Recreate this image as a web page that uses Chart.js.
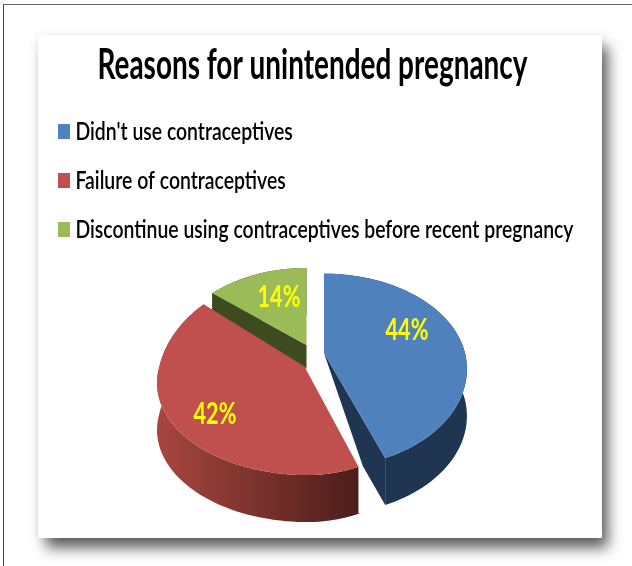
<!DOCTYPE html>
<html>
<head>
<meta charset="utf-8">
<title>Reasons for unintended pregnancy</title>
<script src="https://cdn.jsdelivr.net/npm/chart.js@4"></script>
<style>
  html, body { margin: 0; padding: 0; background: #fff; overflow: hidden; width: 632px; height: 566px; }
  #frame { position: absolute; left: 3px; top: 4px; width: 800px; height: 800px; border-left: 1.5px solid #444; border-top: 1.5px solid #666; }
  #card { position: absolute; left: 38px; top: 35px; width: 564px; height: 503px; background: #fff;
          box-shadow: 7px 11px 13px -1px rgba(0,0,0,.62), 0 0 10px rgba(0,0,0,.08); }
  canvas { display: block; }
</style>
</head>
<body>
<div id="frame"></div>
<div id="card"><canvas id="pie" width="564" height="503"></canvas></div>
<script>
const categories = ["Didn't use contraceptives", "Failure of contraceptives", "Discontinue using contraceptives before recent pregnancy"];
const percentages = [44, 42, 14];
const topColors = ["#4f81bd", "#c0504d", "#9bbb59"];
const sideColors = ["#1f3552", "#a2433f", "#3e4b20"];

const FONT = "Lato, 'Liberation Sans', sans-serif";
const TITLE_SIZE = 42, LEGEND_SIZE = 25;
const LEGEND_WEIGHT = "600";
const TITLE_WIDTH = 430, LEGEND_WIDTH = 498;  // the text is squeezed to these widths
const LEGEND_PAD = 24, SWATCH_X = 20;

// fake 3D: disc seen in perspective
const persp = 0.163, discB = 89.6, depth = 47;
// per slice: where the apex ends up after the explode, radii left/right of it, stretch of far/near half
const apexX = [286, 269, 268.5];
const apexY = [318, 333, 310];
const radiusL = [141, 148, 135];
const radiusR = [141, 122, 135];
const farY = [1.03, 1.23, 1];
const nearY = [1.07, 1, 1];
const labelX = [369, 177, 241];
const labelY = [295, 379, 262];

function project(i, angle) {
    const u = Math.cos(angle), v = Math.sin(angle);
    const w = 1 - persp * v;
    return {
        x: apexX[i] + (u < 0 ? radiusL[i] : radiusR[i]) * u / w,
        y: apexY[i] + discB * (v < 0 ? farY[i] : nearY[i]) * v / w
    };
}

function arcPoints(i, start, end) {
    const pts = [];
    const n = 80;
    for (let k = 0; k <= n; k++) pts.push(project(i, start + (end - start) * k / n));
    return pts;
}

function fillPoly(ctx, pts, fill) {
    ctx.beginPath();
    pts.forEach((p, k) => k ? ctx.lineTo(p.x, p.y) : ctx.moveTo(p.x, p.y));
    ctx.closePath();
    ctx.fillStyle = fill;
    ctx.fill();
}

const shift = p => ({ x: p.x, y: p.y + depth });

// draws a layout box with its text squeezed horizontally around ox
function squeezeBox(box, ctx, ox, s, dx, widenClip) {
    const draw = box.draw;
    box.draw = function (area) {
        const right = box.right;
        if (widenClip) box.right = box.left + 2000; // legend clips to its own box
        ctx.save();
        ctx.translate(ox + dx, 0);
        ctx.scale(s, 1);
        ctx.translate(-ox, 0);
        draw.call(box, area);
        ctx.restore();
        box.right = right;
    };
}

const pie3d = {
    id: "pie3d",
    afterLayout(chart) {
        if (chart.$squeezed) return;
        chart.$squeezed = true;
        const ctx = chart.ctx;
        const widthOf = (font, text) => {
            ctx.save();
            ctx.font = font;
            const w = ctx.measureText(text).width;
            ctx.restore();
            return w;
        };
        // the title plugin already fits its text into the box width
        const titleNatural = Math.min(chart.width, widthOf("bold " + TITLE_SIZE + "px " + FONT, chart.options.plugins.title.text));
        const legendNatural = widthOf(LEGEND_WEIGHT + " " + LEGEND_SIZE + "px " + FONT, categories[2]);
        squeezeBox(chart.titleBlock, ctx, chart.width / 2, TITLE_WIDTH / titleNatural, -7.5, false);
        squeezeBox(chart.legend, ctx, chart.legend.left + LEGEND_PAD, LEGEND_WIDTH / legendNatural, SWATCH_X - LEGEND_PAD, true);
    },
    beforeDatasetsDraw(chart) {
        const ctx = chart.ctx;
        const arcs = chart.getDatasetMeta(0).data;
        const apex = i => ({ x: apexX[i], y: apexY[i] });

        // green, then blue, red goes on top of both
        [2, 0, 1].forEach(i => {
            const a = arcs[i];
            const rim = arcPoints(i, a.startAngle, a.endAngle);
            let side = sideColors[i];
            if (i === 1) {
                side = ctx.createLinearGradient(apexX[1] - 150, 0, rim[0].x, 0);
                side.addColorStop(0, "#a8463f");
                side.addColorStop(1, "#4c1d1a");
            }
            fillPoly(ctx, rim.concat(rim.map(shift).reverse()), side);

            if (i === 2) {
                // inner wall, the red slice hides most of it
                const p = rim[0];
                fillPoly(ctx, [p, apex(i), shift(apex(i)), shift(p)], side);
            }
            if (i === 0) {
                const tip = rim[rim.length - 1];
                const redTip = project(1, arcs[1].startAngle);
                fillPoly(ctx, [apex(i), tip, shift(tip), { x: redTip.x + 3, y: redTip.y }], side);
            }
            fillPoly(ctx, [apex(i)].concat(rim), topColors[i]);

            if (i === 1) {
                const t = rim[0];
                ctx.beginPath();
                ctx.moveTo(apexX[1], apexY[1]);
                ctx.lineTo(t.x, t.y);
                ctx.lineTo(t.x, t.y + depth);
                ctx.lineWidth = 3;
                ctx.strokeStyle = "#fff";
                ctx.stroke();
            }
        });
        return false;
    },
    afterDraw(chart) {
        const ctx = chart.ctx;
        // percent labels
        ctx.font = "bold 31px " + FONT;
        ctx.fillStyle = "#ffff00";
        ctx.textAlign = "center";
        ctx.textBaseline = "middle";
        percentages.forEach((p, i) => {
            ctx.save();
            ctx.translate(labelX[i], labelY[i]);
            ctx.scale(0.7, 1);
            ctx.fillText(p + "%", 0, 0);
            ctx.restore();
        });
        // legend swatches, the built in gap to the text is too wide
        chart.legend.legendHitBoxes.forEach((box, i) => {
            ctx.fillStyle = topColors[i];
            ctx.fillRect(SWATCH_X, box.top + box.height / 2 - 7.5, 12, 15);
        });
    }
};

new Chart(document.getElementById("pie"), {
    type: "pie",
    data: {
        labels: categories,
        datasets: [{ data: percentages, backgroundColor: topColors, borderWidth: 0 }]
    },
    options: {
        responsive: false,
        animation: false,
        plugins: {
            tooltip: { enabled: false },
            title: {
                display: true,
                text: "Reasons for unintended pregnancy",
                color: "#000",
                font: { family: FONT, size: TITLE_SIZE, weight: "bold" },
                padding: { top: 5, bottom: 4.6 }
            },
            legend: {
                position: "left",
                align: "start",
                fullSize: false,
                maxWidth: 560,
                labels: {
                    color: "#000",
                    font: { family: FONT, size: LEGEND_SIZE, weight: LEGEND_WEIGHT },
                    boxWidth: 10,
                    boxHeight: 15,
                    padding: LEGEND_PAD
                }
            }
        }
    },
    plugins: [pie3d]
});
</script>
</body>
</html>
